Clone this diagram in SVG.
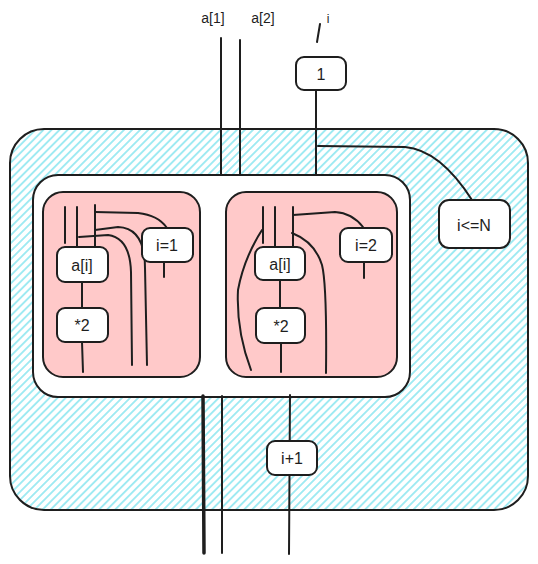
<svg xmlns="http://www.w3.org/2000/svg" width="538" height="564" viewBox="0 0 538 564">
<defs>
<pattern id="hatch" patternUnits="userSpaceOnUse" width="5.7" height="6" patternTransform="rotate(45)">
<line x1="2.85" y1="0" x2="2.85" y2="6" stroke="#99e9f2" stroke-width="1.8"/>
</pattern>
</defs>
<style>
.box{fill:#fff;stroke:#1e1e1e;stroke-width:2}
.ln{fill:none;stroke:#1e1e1e;stroke-width:2;stroke-linecap:round}
.thick{stroke-width:3.5}
.t{font-family:"Liberation Sans",Arial,sans-serif;font-size:16px;fill:#1e1e1e;text-anchor:middle;dominant-baseline:central}
.s{font-size:14px}
</style>
<rect width="538" height="564" fill="#fff"/>
<g id="loop">
<rect x="10" y="129" width="518" height="381" rx="34" fill="#fff"/>
<rect x="10" y="129" width="518" height="381" rx="34" fill="url(#hatch)" stroke="#1e1e1e" stroke-width="2"/>
</g>
<g id="parallel">
<rect x="33" y="175" width="377" height="222" rx="25" class="box"/>
</g>
<g id="iter1">
<rect x="43" y="192" width="157" height="185" rx="20" fill="#ffc9c9" stroke="#1e1e1e" stroke-width="2"/>
</g>
<g id="iter2">
<rect x="226" y="192" width="171" height="185" rx="20" fill="#ffc9c9" stroke="#1e1e1e" stroke-width="2"/>
</g>
<g id="connectors">
<line x1="221" y1="38" x2="221" y2="175" class="ln"/>
<line x1="240" y1="40" x2="240" y2="175" class="ln"/>
<line x1="316" y1="90" x2="316" y2="175" class="ln"/>
<path d="M318,146 L405,147 Q440,150 472,200" class="ln"/>
<line x1="320" y1="24" x2="317" y2="42" class="ln"/>
<line x1="203" y1="396" x2="204" y2="553" class="ln thick"/>
<line x1="222" y1="396" x2="222" y2="553" class="ln"/>
<line x1="290" y1="395" x2="289" y2="554" class="ln"/>
<line x1="65" y1="207" x2="65" y2="243" class="ln"/>
<line x1="77" y1="207" x2="77" y2="247" class="ln"/>
<line x1="95" y1="205" x2="95" y2="247" class="ln"/>
<path d="M95,212 L138,213 Q158,215 167,228" class="ln"/>
<path d="M95,230 L118,227 Q145,228 145,268 L147,365" class="ln"/>
<path d="M79,237 L108,235 Q130,238 131,272 L132,365" class="ln"/>
<line x1="82" y1="282" x2="82" y2="308" class="ln"/>
<line x1="82" y1="342" x2="83" y2="372" class="ln"/>
<line x1="164" y1="262" x2="164" y2="277" class="ln"/>
<line x1="263" y1="207" x2="263" y2="243" class="ln"/>
<line x1="275" y1="207" x2="275" y2="247" class="ln"/>
<line x1="293" y1="207" x2="293" y2="247" class="ln"/>
<path d="M293,215 L335,212 Q352,213 363,227" class="ln"/>
<path d="M262,230 Q244,258 238,290 Q236,330 251,370" class="ln"/>
<path d="M292,233 Q315,242 322,265 Q327,285 326,373" class="ln"/>
<line x1="280" y1="280" x2="280" y2="308" class="ln"/>
<line x1="281" y1="343" x2="281" y2="372" class="ln"/>
<line x1="364" y1="262" x2="364" y2="278" class="ln"/>
</g>
<g id="labels">
<text x="213" y="18" class="t s">a[1]</text>
<text x="263" y="18" class="t s">a[2]</text>
<text x="328" y="19" class="t" style="font-size:12px">i</text>
</g>
<g id="init">
<rect x="296" y="57" width="50" height="33" rx="8" class="box"/>
<text x="321" y="74" class="t">1</text>
</g>
<g id="cond">
<rect x="439" y="200" width="71" height="48" rx="10" class="box"/>
<text x="474" y="225" class="t">i&lt;=N</text>
</g>
<g id="inc">
<rect x="267" y="441" width="50" height="34" rx="8" class="box"/>
<text x="292" y="458" class="t">i+1</text>
</g>
<g id="ai1">
<rect x="57" y="247" width="51" height="35" rx="8" class="box"/>
<text x="82" y="265" class="t">a[i]</text>
</g>
<g id="mul1">
<rect x="57" y="308" width="51" height="34" rx="8" class="box"/>
<text x="82" y="325" class="t">*2</text>
</g>
<g id="i1">
<rect x="142" y="228" width="51" height="34" rx="8" class="box"/>
<text x="167" y="245" class="t">i=1</text>
</g>
<g id="ai2">
<rect x="255" y="247" width="50" height="33" rx="8" class="box"/>
<text x="280" y="264" class="t">a[i]</text>
</g>
<g id="mul2">
<rect x="256" y="308" width="49" height="35" rx="8" class="box"/>
<text x="281" y="326" class="t">*2</text>
</g>
<g id="i2">
<rect x="340" y="228" width="52" height="34" rx="8" class="box"/>
<text x="366" y="245" class="t">i=2</text>
</g>
</svg>
